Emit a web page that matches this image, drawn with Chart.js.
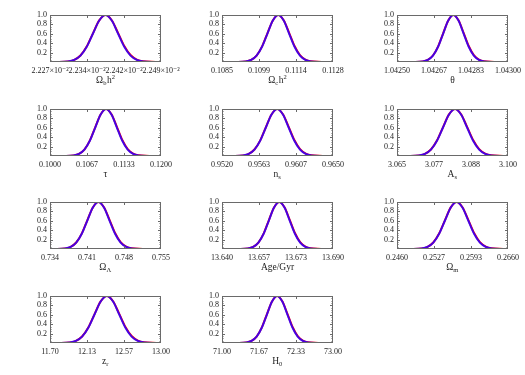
<!DOCTYPE html>
<html><head><meta charset="utf-8">
<script src="https://cdn.jsdelivr.net/npm/chart.js@4.4.1/dist/chart.umd.min.js"></script>
<style>
html,body{margin:0;padding:0;background:#fff;}
#wrap{position:relative;width:525px;height:375px;overflow:hidden;background:#fff;}
#wrap canvas{position:absolute;}
</style></head><body><div id="wrap"></div>
<script>
// ---- data ----
const titles = ["Ω_{b}h^{2}","Ω_{c}h^{2}","θ","τ","n_{s}","A_{s}","Ω_{Λ}","Age/Gyr","Ω_{m}","z_{r}","H_{0}"];
const xRanges = [[0.02227,0.02249],[0.1085,0.1128],[1.04250,1.04300],[0.1000,0.1200],[0.9520,0.9650],
  [3.065,3.100],[0.734,0.755],[13.640,13.690],[0.2460,0.2660],[11.70,13.00],[71.00,73.00]];
const xTickLabels = [
  ["2.227×10⁻²","2.234×10⁻²","2.242×10⁻²","2.249×10⁻²"],
  ["0.1085","0.1099","0.1114","0.1128"],
  ["1.04250","1.04267","1.04283","1.04300"],
  ["0.1000","0.1067","0.1133","0.1200"],
  ["0.9520","0.9563","0.9607","0.9650"],
  ["3.065","3.077","3.088","3.100"],
  ["0.734","0.741","0.748","0.755"],
  ["13.640","13.657","13.673","13.690"],
  ["0.2460","0.2527","0.2593","0.2660"],
  ["11.70","12.13","12.57","13.00"],
  ["71.00","71.67","72.33","73.00"]];
const yTickValues = [0.2,0.4,0.6,0.8,1.0];
const yTickLabels = ["0.2","0.4","0.6","0.8","1.0"];

const xOmegaB = [0.0222808,0.0223056,0.022318,0.0223304,0.0223428,0.0223552,0.0223676,0.02238,0.0223924,0.0224048,0.0224172,0.0224296,0.022442,0.0224544,0.0224792];
const xOmegaC = [0.10900,0.10942,0.10963,0.10984,0.11005,0.11026,0.11047,0.11068,0.11089,0.11110,0.11131,0.11152,0.11173,0.11194,0.11236];
const xTheta  = [1.042570,1.042616,1.042639,1.042662,1.042685,1.042708,1.042731,1.042754,1.042777,1.042800,1.042823,1.042846,1.042869,1.042892,1.042938];
const xTau    = [0.1023,0.10425,0.105225,0.1062,0.107175,0.10815,0.109125,0.1101,0.111075,0.11205,0.113025,0.114,0.114975,0.11595,0.1179];
const xNs     = [0.95313,0.954465,0.9551325,0.9558,0.9564675,0.957135,0.9578025,0.95847,0.9591375,0.959805,0.9604725,0.96114,0.9618075,0.962475,0.96381];
const xAs     = [3.0681,3.0719,3.0738,3.0757,3.0776,3.0795,3.0814,3.0833,3.0852,3.0871,3.0890,3.0909,3.0928,3.0947,3.0985];
const xOmegaL = [0.73476,0.73686,0.73791,0.73896,0.74001,0.74106,0.74211,0.74316,0.74421,0.74526,0.74631,0.74736,0.74841,0.74946,0.75156];
const xAge    = [13.6470,13.6517,13.65405,13.6564,13.65875,13.6611,13.66345,13.6658,13.66815,13.6705,13.67285,13.6752,13.67755,13.6799,13.6846];
const xOmegaM = [0.24834,0.25044,0.25149,0.25254,0.25359,0.25464,0.25569,0.25674,0.25779,0.25884,0.25989,0.26094,0.26199,0.26304,0.26514];
const xZr     = [11.786,11.931,12.0035,12.076,12.1485,12.221,12.2935,12.366,12.4385,12.511,12.5835,12.656,12.7285,12.801,12.946];
const xH0     = [71.254,71.439,71.5315,71.624,71.7165,71.809,71.9015,71.994,72.0865,72.179,72.2715,72.364,72.4565,72.549,72.734];
const panelX = [xOmegaB,xOmegaC,xTheta,xTau,xNs,xAs,xOmegaL,xAge,xOmegaM,xZr,xH0];

const densBlue = [0.000,0.011,0.044,0.135,0.324,0.606,0.882,1.000,0.882,0.606,0.324,0.135,0.044,0.011,0.000];
const densRed  = [0.000,0.012,0.046,0.138,0.328,0.610,0.885,1.000,0.888,0.620,0.340,0.148,0.052,0.014,0.001];

// ---- layout ----
const colLefts = [50,222,397];
const rowTops = [15,109,202,296];
const PW = 111, PH = 47, YW = 35, PADT = 6, PADR = 30, XH = 35;
const FONT = "'Liberation Serif', 'DejaVu Serif', serif";
const TXT = '#222';

function drawRich(ctx, s, cx, cy){
  const parts = [];
  const re = /([_^])\{([^}]*)\}|([^_^]+)/g; let m;
  while((m = re.exec(s))){ if(m[3]) parts.push({t:m[3],k:''}); else parts.push({t:m[2],k:m[1]}); }
  const fontFor = p => (p.k ? '6.5px ' : '9.5px ') + FONT;
  let w = 0;
  parts.forEach(p => { ctx.font = fontFor(p); p.w = ctx.measureText(p.t).width + (p.k==='_'?0.5:0); w += p.w; });
  let x = cx - w/2;
  ctx.textBaseline = 'middle'; ctx.textAlign = 'left'; ctx.fillStyle = TXT;
  parts.forEach(p => {
    ctx.font = fontFor(p);
    const dy = p.k==='_' ? 2.5 : (p.k==='^' ? -3.2 : 0);
    ctx.fillText(p.t, x, cy + dy);
    x += p.w;
  });
}

const framePlugin = {
  id:'frame',
  afterDraw(chart){
    const {ctx, chartArea:a, scales:{x, y}} = chart;
    ctx.save();
    ctx.strokeStyle = '#6a6a6a'; ctx.lineWidth = 1;
    ctx.strokeRect(a.left+0.5, a.top+0.5, a.right-a.left-1, a.bottom-a.top-1);
    ctx.beginPath();
    x.ticks.forEach((t,i) => {
      if(i===0 || i===x.ticks.length-1) return;
      const px = Math.round(x.getPixelForValue(t.value))+0.5;
      ctx.moveTo(px, a.bottom); ctx.lineTo(px, a.bottom-3);
      ctx.moveTo(px, a.top); ctx.lineTo(px, a.top+3);
    });
    for(let v=0.05; v<0.999; v+=0.05){
      const py = Math.round(y.getPixelForValue(v))+0.5;
      const major = Math.abs(v/0.2 - Math.round(v/0.2)) < 1e-6;
      const L = major ? 3 : 1.5;
      ctx.moveTo(a.left, py); ctx.lineTo(a.left+L, py);
      ctx.moveTo(a.right, py); ctx.lineTo(a.right-L, py);
    }
    ctx.stroke();
    const p = chart.options.plugins.frame;
    drawRich(ctx, p.title, (a.left+a.right)/2, a.bottom+18.5);
    ctx.restore();
  }
};

const wrap = document.getElementById('wrap');
panelX.forEach((xs, p) => {
  const col = p % 3, row = Math.floor(p/3);
  const cv = document.createElement('canvas');
  const W = YW + PW + PADR, H = PADT + PH + XH;
  cv.width = W; cv.height = H;
  cv.style.width = W+'px'; cv.style.height = H+'px';
  cv.style.left = (colLefts[col]-YW)+'px'; cv.style.top = (rowTops[row]-PADT)+'px';
  wrap.appendChild(cv);
  const [xmin, xmax] = xRanges[p];
  new Chart(cv.getContext('2d'), {
    type:'line',
    data:{ datasets:[
      {data: xs.map((v,i)=>({x:v, y:densRed[i]})), order:2, borderColor:'#ff0000', borderWidth:2, pointRadius:0, cubicInterpolationMode:'monotone', fill:false},
      {data: xs.map((v,i)=>({x:v, y:densBlue[i]})), order:1, borderColor:'rgba(45,0,255,0.88)', borderWidth:2, pointRadius:0, cubicInterpolationMode:'monotone', fill:false}
    ]},
    options:{
      responsive:false, animation:false, events:[],
      devicePixelRatio:1,
      layout:{padding:{top:PADT, right:PADR, left:0, bottom:0}},
      scales:{
        x:{ type:'linear', min:xmin, max:xmax,
          afterBuildTicks: s => { s.ticks = [0,1,2,3].map(i => ({value: xmin + i*(xmax-xmin)/3})); },
          afterFit: s => { s.height = XH; s.paddingLeft = 0; s.paddingRight = 0; },
          ticks:{ autoSkip:false, maxRotation:0, minRotation:0, padding:4, color:TXT,
            font:{family:FONT, size:8}, callback:(v,i)=>xTickLabels[p][i] },
          grid:{display:false, drawTicks:false}, border:{display:false} },
        y:{ type:'linear', min:0, max:1,
          afterBuildTicks: s => { s.ticks = yTickValues.map(v => ({value:v})); },
          afterFit: s => { s.width = YW; s.paddingTop = 0; s.paddingBottom = 0; },
          ticks:{ autoSkip:false, padding:3, color:TXT, font:{family:FONT, size:8},
            callback:(v,i)=>yTickLabels[i] },
          grid:{display:false, drawTicks:false}, border:{display:false} }
      },
      plugins:{ legend:{display:false}, tooltip:{enabled:false}, frame:{title: titles[p]} }
    },
    plugins:[framePlugin]
  });
});
</script>
</body></html>
